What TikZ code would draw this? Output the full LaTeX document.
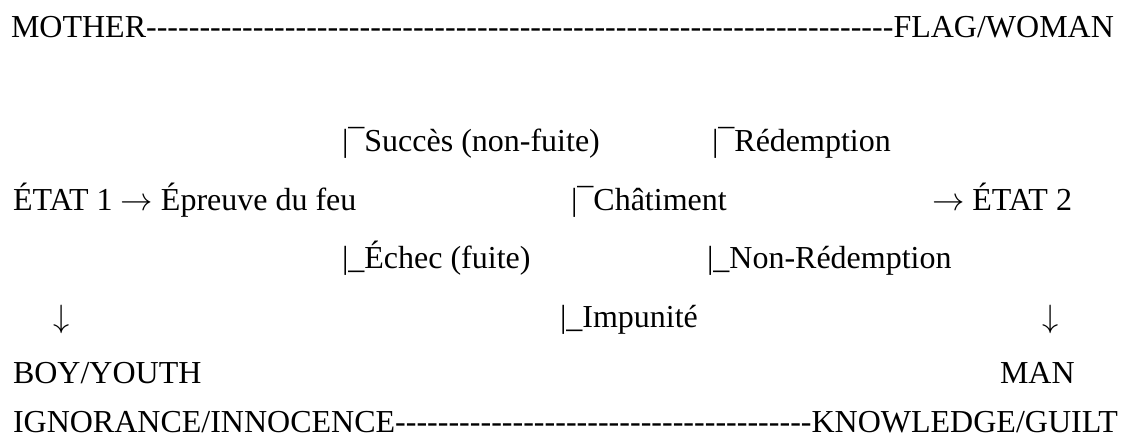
\documentclass[tikz,border=0pt]{standalone}
\usepackage{graphicx}
\usepackage{fontspec}
\setmainfont{Liberation Serif}
\newcommand{\rarr}{\raisebox{-0.5pt}{\scalebox{1.3}{$\rightarrow$}}}
\newcommand{\darr}{\scalebox{1.3}{$\downarrow$}}
\begin{document}
\begin{tikzpicture}[x=1pt,y=-1pt,
  txt/.style={inner sep=0pt, outer sep=0pt, font=\fontsize{32}{38}\selectfont, anchor=base west},
  txtc/.style={txt, anchor=base}]
\fill[white] (0,0) rectangle (1122,441);
\useasboundingbox (0,0) rectangle (1122,441);
% line 1
\node[txt] (top) at (11,38) {\hbox to 1103pt{MOTHER\xleaders\hbox{-}\hfill FLAG/WOMAN}};
% line 2
\node[txt] (succes) at (342,152) {|¯Succès (non-fuite)};
\node[txt] (redemption) at (712,152) {|¯Rédemption};
% line 3
\node[txt] (etat1) at (13,210) {ÉTAT 1 \rarr\ Épreuve du feu};
\node[txt] (chatiment) at (571,210) {|¯Châtiment};
\node[txt] (etat2) at (932,210) {\rarr\ ÉTAT 2};
% line 4
\node[txt] (echec) at (342,268) {|\_Échec (fuite)};
\node[txt] (nonred) at (707,268) {|\_Non-Rédemption};
% line 5
\node[txtc] (arrowL) at (62,327) {\darr};
\node[txt] (impunite) at (560,327) {|\_Impunité};
\node[txtc] (arrowR) at (1051,327) {\darr};
% line 6
\node[txt] (boy) at (13,383) {BOY/YOUTH};
\node[txt] (man) at (1000,383) {MAN};
% line 7
\node[txt] (bottom) at (13,432) {\hbox to 1105pt{IGNORANCE/INNOCENCE\xleaders\hbox{-}\hfill KNOWLEDGE/GUILT}};
\end{tikzpicture}
\end{document}
